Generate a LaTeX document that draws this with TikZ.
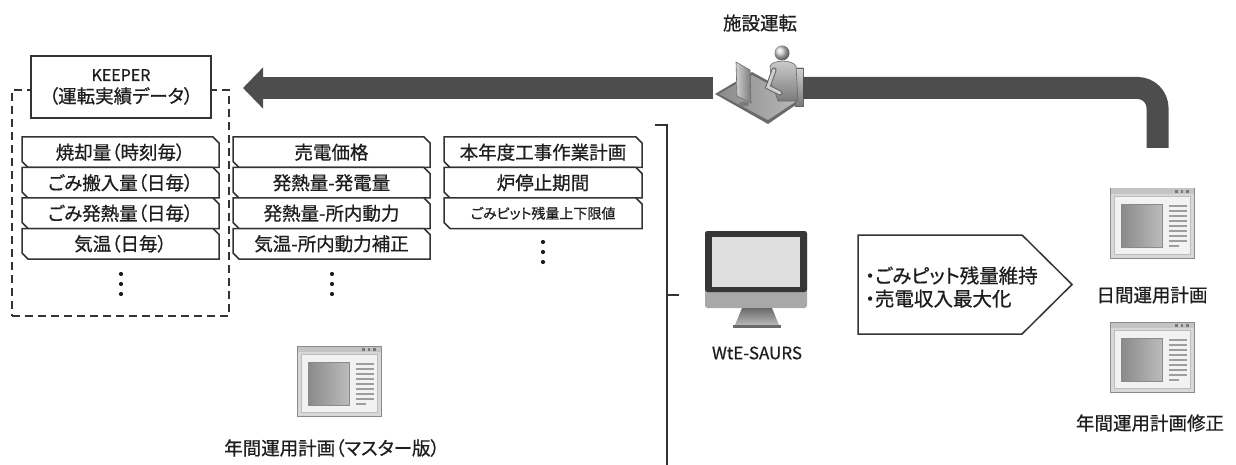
\documentclass[tikz,border=0pt]{standalone}
\usepackage{fontspec}
\setmainfont{Noto Sans CJK JP}[RawFeature=+palt, FakeBold=0.7]
\usetikzlibrary{shapes.misc,arrows.meta}

\definecolor{ink}{HTML}{1E1E1E}
\definecolor{rule}{HTML}{333333}
\definecolor{band}{HTML}{4D4D4D}
\definecolor{winedge}{HTML}{8A8A8A}
\definecolor{winframe}{HTML}{D8D8D8}
\definecolor{wintitle}{HTML}{C4C4C4}
\definecolor{windot}{HTML}{777777}
\definecolor{winpane}{HTML}{F2F2F2}
\definecolor{winpaneedge}{HTML}{BDBDBD}
\definecolor{winimgA}{HTML}{8A8A8A}
\definecolor{winimgB}{HTML}{BBBBBB}
\definecolor{winline}{HTML}{9E9E9E}
\definecolor{bezel}{HTML}{363636}
\definecolor{chin}{HTML}{A8A8A8}
\definecolor{screen}{HTML}{DEDEDE}
\definecolor{standA}{HTML}{6A6A6A}
\definecolor{standB}{HTML}{B8B8B8}
\definecolor{deskA}{HTML}{8C8C8C}
\definecolor{deskB}{HTML}{B8B8B8}
\definecolor{deskedge}{HTML}{6A6A6A}
\definecolor{figA}{HTML}{CFCFCF}
\definecolor{figB}{HTML}{7A7A7A}
\definecolor{figedge}{HTML}{666666}

\tikzset{
  cellbox/.style={chamfered rectangle,
    chamfered rectangle corners={north east,south west},
    chamfered rectangle xsep=3pt, chamfered rectangle ysep=3pt,
    draw=rule, line width=1.5, fill=white, text=ink, inner sep=0pt,
    minimum width=197, minimum height=30.5,
    font=\fontsize{18.5}{22}\selectfont},
  label/.style={text=ink, inner sep=0pt, font=\fontsize{18.5}{22}\selectfont},
  bandline/.style={draw=band, line width=22},
  vdot/.style={fill=ink},
  winicon/.pic={
    \draw[draw=winedge, fill=winframe, line width=0.9] (0,0) rectangle (84,70);
    \fill[wintitle] (0.5,0.5) rectangle (83.5,6);
    \foreach \dx in {65,70.5,76} \fill[windot] (\dx,2) rectangle ++(2.6,2.6);
    \draw[draw=winpaneedge, fill=winpane, line width=0.8] (4,8) rectangle (80,66);
    \shade[left color=winimgA, right color=winimgB, draw=winedge, line width=0.6] (11,16) rectangle (52,59);
    \foreach \ly in {18,23,...,53} \draw[winline, line width=1.3] (59,\ly) -- (77,\ly);
    \draw[winline, line width=1.3] (59,58) -- (69,58);
  }
}

\begin{document}
\begin{tikzpicture}[x=1pt,y=-1pt]
\useasboundingbox (0,0) rectangle (1236,465);

% ---- archive of recorded operation data ----
\node (archive) [draw=rule, line width=1.6, dash pattern=on 8pt off 5pt,
  minimum width=217, minimum height=226, inner sep=0] at (120.5,203) {};
\node (keeper) [draw=rule, line width=1.5, fill=white, text=ink, align=center,
  minimum width=180, minimum height=62, inner sep=0,
  font=\fontsize{18.5}{22}\selectfont] at (121,87)
  {{\fontsize{16}{22}\selectfont KEEPER}\\（運転実績データ）};

% ---- input data columns ----
\node (l1) [cellbox] at (120.5,152.25) {焼却量（時刻毎）};
\node (l2) [cellbox] at (120.5,182.75) {ごみ搬入量（日毎）};
\node (l3) [cellbox] at (120.5,213.25) {ごみ発熱量（日毎）};
\node (l4) [cellbox] at (120.5,243.75) {気温（日毎）};

\node (m1) [cellbox] at (331.5,152.25) {売電価格};
\node (m2) [cellbox] at (331.5,182.75) {発熱量-発電量};
\node (m3) [cellbox] at (331.5,213.25) {発熱量-所内動力};
\node (m4) [cellbox] at (331.5,243.75) {気温-所内動力補正};

\node (r1) [cellbox, minimum width=198] at (543,152.25) {本年度工事作業計画};
\node (r2) [cellbox, minimum width=198] at (543,182.75) {炉停止期間};
\node (r3) [cellbox, minimum width=198, font=\fontsize{14}{17}\selectfont] at (543,213.25) {ごみピット残量上下限値};

% vertical ellipses under each column
\foreach \cx/\cy in {121/274, 332/274, 543/242}
  \foreach \k in {0,10,20} \fill[vdot] (\cx,\cy+\k) circle (2.1);

% ---- annual master plan ----
\pic at (297,346) {winicon};
\node (master) [label] at (332,448) {年間運用計画（マスター版）};

% ---- bracket gathering the inputs ----
\coordinate (brtop) at (667,125);
\coordinate (brmid) at (667,295);
\draw[rule, line width=1.8] (655,125) -- (brtop) -- (667,465);
\draw[rule, line width=1.8] (brmid) -- (679,295);

% ---- WtE-SAURS workstation ----
\fill[chin, rounded corners=2.5] (705,231) rectangle (807,308);
\fill[bezel, rounded corners=2.5] (705,231) rectangle (807,292);
\fill[screen] (712,237) rectangle (800,287);
\shade[top color=standA, bottom color=standB] (742,308) -- (772,308) -- (779,325) -- (735,325) -- cycle;
\fill[standA] (733,325) rectangle (781,328);
\node (saurs) [label, font=\fontsize{17}{20}\selectfont] at (757,353) {WtE-SAURS};

% ---- optimisation goals ----
\coordinate (goalnw) at (858,235);
\coordinate (goalsw) at (858,334);
\coordinate (goaltip) at (1072,284.5);
\draw[rule, line width=1.5, fill=white, line join=miter]
  (goalnw) -- (1022,235) -- (goaltip) -- (1022,334) -- (goalsw) -- cycle;
\node (goaltext) [label, anchor=west, align=left, font=\fontsize{19.5}{23}\selectfont]
  at (865,287) {・ごみピット残量維持\\・売電収入最大化};

% ---- resulting plans ----
\pic at (1110,188) {winicon};
\node (daily) [label] at (1152,295) {日間運用計画};
\pic at (1110,322) {winicon};
\node (revised) [label] at (1150,423) {年間運用計画修正};

% ---- plant operator ----
\node (operator) [minimum width=90, minimum height=70, inner sep=0] at (758,88) {};
\node (opslabel) [label] at (760,23) {施設運転};
% desk plate
\fill[deskedge] (715,94) -- (752,72) -- (803,100) -- (768,124) -- cycle;
\shade[left color=deskA, right color=deskB] (719,94) -- (752,75) -- (798,100) -- (768,120) -- cycle;
% chair back
\shade[top color=figA, bottom color=figB, draw=figedge, line width=0.5] (795,68) rectangle (803,106);
% seated figure
\shade[top color=figA, bottom color=figB, draw=figedge, line width=0.6]
  (770,66) .. controls (772,60) and (792,59) .. (796,66) -- (798,101) -- (778,101) -- (775,92) -- (771,84) -- cycle;
\draw[figedge, line width=5, line cap=round] (774,70) -- (768,87) -- (780,93);
\draw[figA, line width=3, line cap=round] (774,70) -- (768,87) -- (780,93);
\shade[ball color=figA] (782,53) circle (7.5);
% screen seen from behind
\shade[left color=figA, right color=figB, draw=deskedge, line width=0.6]
  (736,62) -- (750,70) -- (751,103) -- (737,96) -- cycle;
\fill[figB] (744,104) ellipse (5 and 2.5);

% ---- feedback from operation to the archive ----
\coordinate (feed) at (1157.5,148);
\coordinate (tip) at (243,88);
\draw[bandline, rounded corners=20] (operator.east) -| (feed);
\draw[bandline, -{Triangle[length=20pt,width=40pt]}] (operator.west) -- (tip);

\end{tikzpicture}
\end{document}
